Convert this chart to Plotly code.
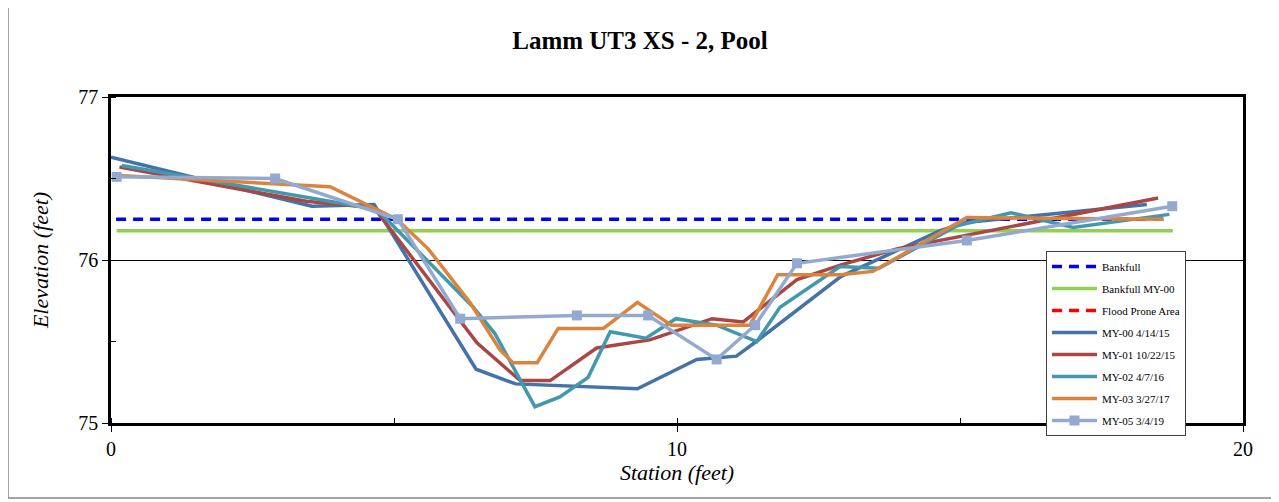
import plotly.graph_objects as go

# ---- data ----
bankfull_x = [0.09, 18.68]
bankfull_y = [76.25, 76.25]
bankfull00_x = [0.1, 18.76]
bankfull00_y = [76.18, 76.18]
flood_x = [0.1, 18.7]
flood_y = [77.6, 77.6]

my00_x = [0, 3.55, 4.65, 6.45, 7.15, 9.3, 10.35, 11.05, 11.4, 12.9, 14.65, 15.1, 18.3]
my00_y = [76.63, 76.33, 76.34, 75.33, 75.24, 75.21, 75.39, 75.41, 75.5, 75.9, 76.18, 76.23, 76.34]

my01_x = [0.15, 3.45, 4.65, 6.47, 7.23, 7.76, 8.58, 9.52, 10.62, 11.17, 12.12, 12.9, 13.9, 18.5]
my01_y = [76.57, 76.36, 76.32, 75.49, 75.26, 75.26, 75.46, 75.51, 75.64, 75.62, 75.88, 75.97, 76.07, 76.38]

my02_x = [0.19, 3.2, 4.7, 6.4, 6.78, 7.49, 7.93, 8.43, 8.82, 9.45, 9.98, 10.7, 11.41, 11.82, 12.88, 13.57, 14.95, 15.9, 17.0, 18.7]
my02_y = [76.58, 76.4, 76.31, 75.71, 75.55, 75.1, 75.16, 75.28, 75.56, 75.52, 75.64, 75.6, 75.5, 75.71, 75.96, 75.95, 76.21, 76.29, 76.2, 76.28]

my03_x = [0.05, 3.87, 5.05, 5.6, 6.34, 6.87, 7.1, 7.53, 7.9, 8.7, 9.3, 9.9, 11.29, 11.78, 12.88, 13.46, 15.12, 18.6]
my03_y = [76.52, 76.45, 76.25, 76.07, 75.74, 75.45, 75.37, 75.37, 75.58, 75.58, 75.74, 75.6, 75.6, 75.91, 75.91, 75.93, 76.26, 76.25]

my05_x = [0.1, 2.9, 5.07, 6.17, 8.23, 9.49, 10.7, 11.38, 12.12, 15.12, 18.75]
my05_y = [76.51, 76.5, 76.25, 75.64, 75.66, 75.66, 75.39, 75.6, 75.98, 76.12, 76.33]

x_ticks = [0, 10, 20]
y_ticks = [75, 76, 77]

SERIF = "Liberation Serif, Times New Roman, serif"
LW = 3.5

fig = go.Figure()
fig.add_trace(go.Scatter(x=bankfull_x, y=bankfull_y, mode="lines", name="Bankfull",
                         line=dict(color="#0000FF", width=LW, dash="10px,7px")))
fig.add_trace(go.Scatter(x=bankfull00_x, y=bankfull00_y, mode="lines", name="Bankfull MY-00",
                         line=dict(color="#92D050", width=LW)))
fig.add_trace(go.Scatter(x=flood_x, y=flood_y, mode="lines", name="Flood Prone Area",
                         line=dict(color="#FF0000", width=LW, dash="10px,7px")))
fig.add_trace(go.Scatter(x=my00_x, y=my00_y, mode="lines", name="MY-00 4/14/15",
                         line=dict(color="#4572A7", width=LW)))
fig.add_trace(go.Scatter(x=my01_x, y=my01_y, mode="lines", name="MY-01 10/22/15",
                         line=dict(color="#AA4643", width=LW)))
fig.add_trace(go.Scatter(x=my02_x, y=my02_y, mode="lines", name="MY-02 4/7/16",
                         line=dict(color="#4198AF", width=LW)))
fig.add_trace(go.Scatter(x=my03_x, y=my03_y, mode="lines", name="MY-03 3/27/17",
                         line=dict(color="#DB843D", width=LW)))
fig.add_trace(go.Scatter(x=my05_x, y=my05_y, mode="lines+markers", name="MY-05 3/4/19",
                         line=dict(color="#93A9CF", width=LW),
                         marker=dict(symbol="square", size=10, color="#93A9CF")))

for i, tr in enumerate(fig.data):
    tr.legendgroup = f"g{i}"

# page is offset by 8px (body margin); work in page pixels, convert
OFF = 8
W, H = 1279, 502
PL, PR, PT, PB = 111, 1243, 97, 423  # plot area in page pixels
L = PL - OFF
T = PT - OFF
R = W - (PR - OFF)
B = H - (PB - OFF)
pw = PR - PL
ph = PB - PT

def px_to_paper_x(px):
    return (px - PL) / pw

def px_to_paper_y(py):
    return (PB - py) / ph

fig.update_layout(
    width=W, height=H,
    margin=dict(l=L, r=R, t=T, b=B, autoexpand=False),
    paper_bgcolor="white", plot_bgcolor="white",
    font=dict(family=SERIF, color="black"),
    title=dict(text="<b>Lamm UT3 XS - 2, Pool</b>", x=px_to_paper_x(640), xanchor="center", xref="paper",
               y=1 - (40 - OFF) / H, yanchor="middle", font=dict(size=25, family=SERIF, color="black")),
    showlegend=True,
    legend=dict(x=px_to_paper_x(1046), y=px_to_paper_y(251), xanchor="left", yanchor="top",
                bgcolor="white", bordercolor="#404040", borderwidth=1,
                font=dict(size=11, family=SERIF, color="black"),
                tracegroupgap=3, itemwidth=45),
    xaxis=dict(range=[0, 20], tickvals=x_ticks, ticktext=[str(v) for v in x_ticks],
               showgrid=False, zeroline=False, showline=True, linecolor="black", linewidth=2.5,
               mirror=True, ticks="outside", ticklen=6, tickcolor="black", tickwidth=1,
               minor=dict(dtick=5, ticks="inside", ticklen=5, tickcolor="black", showgrid=False),
               tickfont=dict(size=20, family=SERIF, color="black"),
               title=dict(text="<i>Station (feet)</i>", font=dict(size=22, family=SERIF, color="black"),
                          standoff=6)),
    yaxis=dict(range=[75, 77], tickvals=y_ticks, ticktext=[str(v) for v in y_ticks],
               showgrid=True, gridcolor="black", gridwidth=1.3, zeroline=False,
               showline=True, linecolor="black", linewidth=2.5, mirror=True,
               ticks="outside", ticklen=6, tickcolor="black", tickwidth=1,
               minor=dict(dtick=0.5, ticks="inside", ticklen=5, tickcolor="black", showgrid=False),
               tickfont=dict(size=20, family=SERIF, color="black"),
               title=dict(text="<i>Elevation (feet)</i>", font=dict(size=22, family=SERIF, color="black"),
                          standoff=24)),
    shapes=[dict(type="rect", xref="paper", yref="paper",
                 x0=px_to_paper_x(8), x1=px_to_paper_x(1272),
                 y0=px_to_paper_y(498), y1=px_to_paper_y(2),
                 line=dict(color="#888888", width=1.5), fillcolor="rgba(0,0,0,0)", layer="below")],
)

fig.write_html("out.html")
